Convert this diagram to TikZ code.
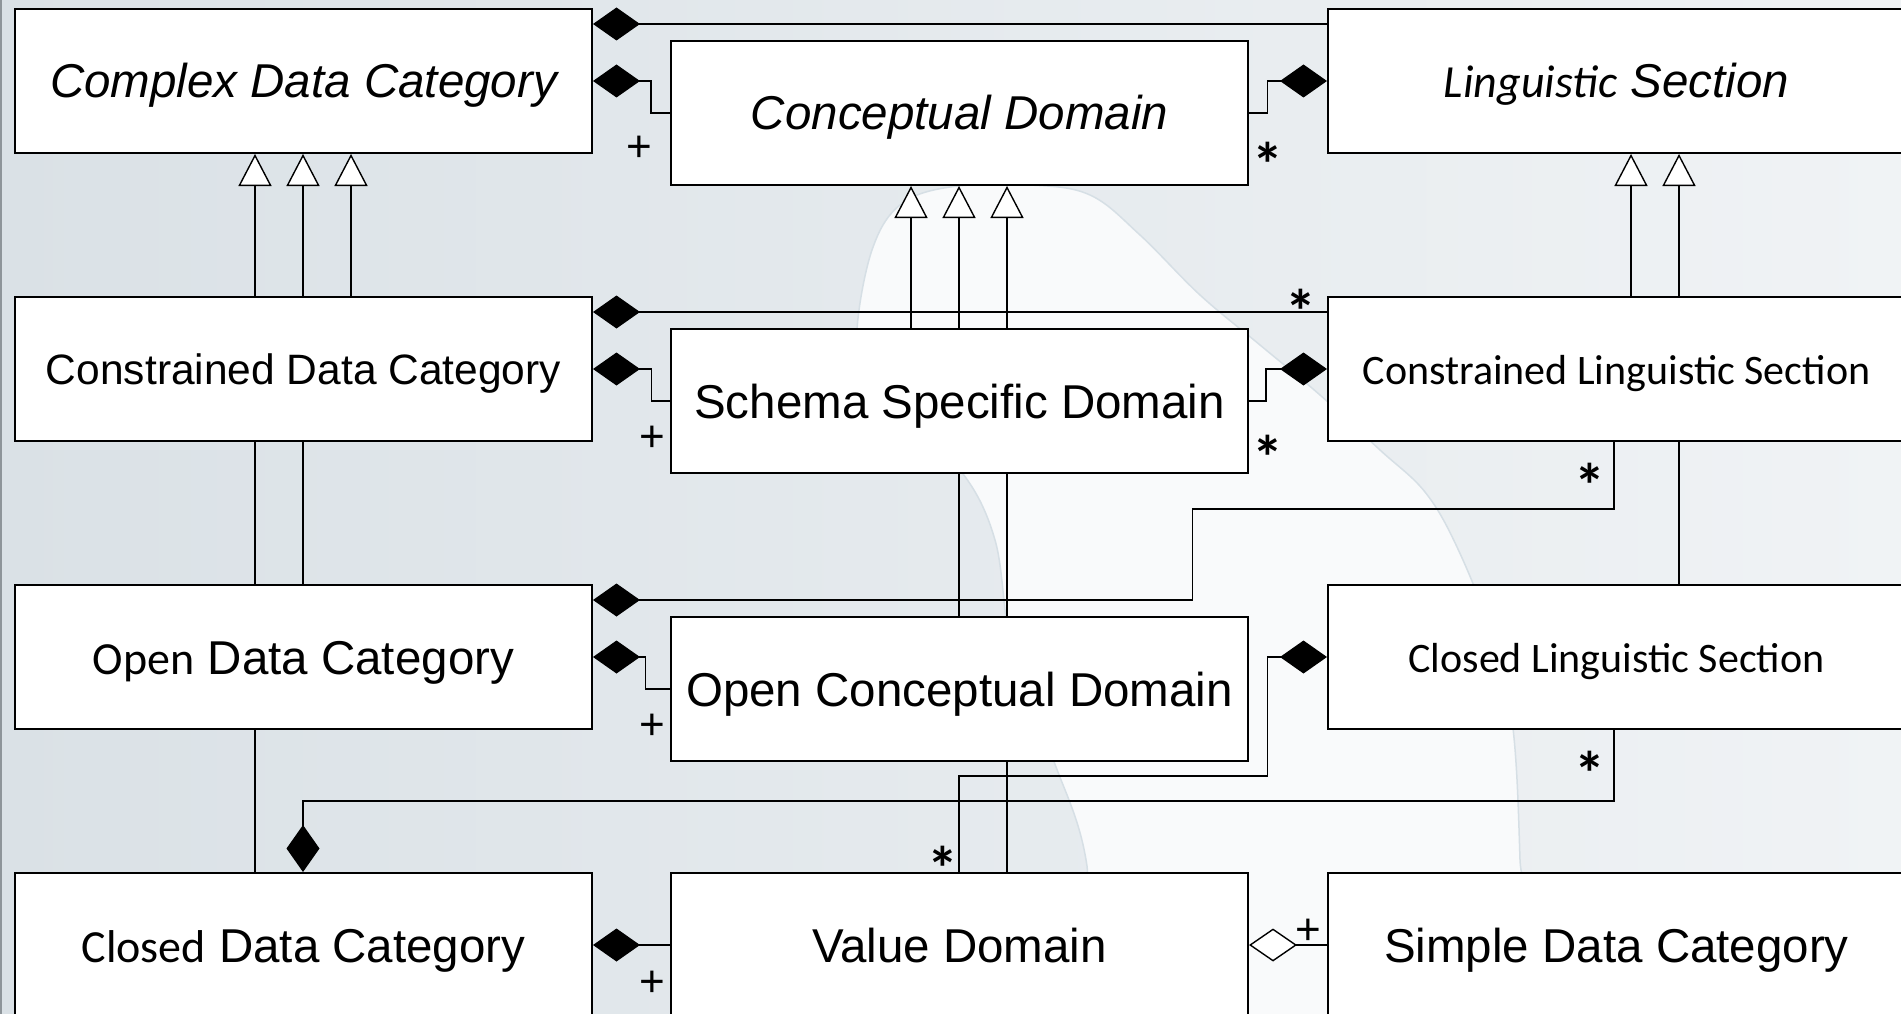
\documentclass[tikz,border=0pt]{standalone}
\usepackage{fontspec}
\usetikzlibrary{arrows.meta,calc}
\newfontfamily\arialfont{Liberation Sans}
\newfontfamily\calibrifont{Carlito}
\pgfdeclarelayer{backdrop}
\pgfdeclarelayer{wires}
\pgfsetlayers{backdrop,wires,main}
\definecolor{bgleft}{HTML}{DAE1E6}
\definecolor{bgright}{HTML}{F0F3F5}
\definecolor{blobfill}{HTML}{F9FAFB}
\definecolor{blobedge}{HTML}{D6DFE5}
\definecolor{frameline}{HTML}{8E959A}

\tikzset{
  umlclass/.style={draw=black, fill=white, line width=2pt,
    minimum width=577pt, minimum height=144pt, inner sep=0pt,
    text height=34pt, text depth=0pt,
    font=\arialfont\fontsize{47.5pt}{57pt}\selectfont},
  smalltext/.style={text height=30pt},
  lingfont/.style={font=\calibrifont\fontsize{42pt}{50pt}\selectfont},
  wire/.style={draw=black, line width=1.4pt},
  composite/.style={wire, -{Diamond[length=47pt,width=33pt]}},
  aggregate/.style={wire, -{Diamond[length=48pt,width=33pt,fill=white]}},
  generalize/.style={wire, -{Triangle[length=32pt,width=33pt,fill=white]}},
  many/.style={font=\calibrifont\bfseries\fontsize{62pt}{70pt}\selectfont, inner sep=0pt},
  plusmark/.style={font=\arialfont\fontsize{44pt}{52pt}\selectfont, inner sep=0pt},
}
\newcommand\cbword[1]{{\calibrifont\fontsize{46pt}{55pt}\selectfont #1}}

\begin{document}
\begin{tikzpicture}[x=1pt,y=-1pt]
\useasboundingbox (0,0) rectangle (1901,1014);

% backdrop: soft gradient with a pale blob and a frame line on the left
\begin{pgfonlayer}{backdrop}
  \shade[left color=bgleft, right color=bgright] (0,0) rectangle (1901,1014);
  \filldraw[fill=blobfill, draw=blobedge, line width=1.5pt]
    plot[smooth cycle, tension=0.6] coordinates {
      (857,330) (872,250) (900,205) (950,187) (1030,185) (1090,195)
      (1140,235) (1200,295) (1260,345) (1320,395) (1380,450) (1425,492)
      (1457,547) (1490,630) (1512,720) (1520,860) (1522,1040)
      (1094,1040) (1087,866) (1052,756) (1012,650) (995,540)
      (960,470) (900,420) (865,380)};
  \draw[line width=2pt, draw=frameline] (1,0) -- (1,1014);
\end{pgfonlayer}

% classes
\node[umlclass] (complexdc) at (303.5,81) {\itshape Complex Data Category};
\node[umlclass] (concdom) at (959.5,113) {\itshape Conceptual Domain};
\node[umlclass] (lingsec) at (1616.5,81) {\cbword{\itshape Linguistic}\ \itshape Section};

\node[umlclass, smalltext, font=\arialfont\fontsize{42.5pt}{51pt}\selectfont] (constrdc) at (303.5,369) {Constrained Data Category};
\node[umlclass] (schemadom) at (959.5,401) {Schema Specific Domain};
\node[umlclass, smalltext, lingfont] (constrls) at (1616.5,369) {Constrained Linguistic Section};

\node[umlclass] (opendc) at (303.5,657) {\cbword{Open} Data Category};
\node[umlclass] (openconc) at (959.5,689) {Open Conceptual Domain};
\node[umlclass, smalltext, lingfont] (closedls) at (1616.5,657) {Closed Linguistic Section};

\node[umlclass] (closeddc) at (303.5,945) {\cbword{Closed} Data Category};
\node[umlclass] (valuedom) at (959.5,945) {Value Domain};
\node[umlclass] (simpledc) at (1616.5,945) {Simple Data Category};

% relations
\begin{pgfonlayer}{wires}
  % generalizations
  \draw[generalize] ($(closeddc.north west)+(241,0)$) -- ($(complexdc.south west)+(241,0)$);
  \draw[generalize] ($(opendc.north west)+(289,0)$) -- ($(complexdc.south west)+(289,0)$);
  \draw[generalize] ($(constrdc.north west)+(337,0)$) -- ($(complexdc.south west)+(337,0)$);
  \draw[generalize] ($(schemadom.north west)+(241,0)$) -- ($(concdom.south west)+(241,0)$);
  \draw[generalize] ($(openconc.north west)+(289,0)$) -- ($(concdom.south west)+(289,0)$);
  \draw[generalize] ($(valuedom.north west)+(337,0)$) -- ($(concdom.south west)+(337,0)$);
  \draw[generalize] ($(constrls.north west)+(304,0)$) -- ($(lingsec.south west)+(304,0)$);
  \draw[generalize] ($(closedls.north west)+(352,0)$) -- ($(lingsec.south west)+(352,0)$);

  % compositions
  \draw[composite] ([yshift=-16pt]lingsec.north west) -- ([yshift=-16pt]complexdc.north east);
  \draw[composite] (concdom.west) -- ++(-19,0) |- (complexdc.east);
  \draw[composite] (concdom.east) -- ++(18.5,0) |- (lingsec.west);
  \draw[composite] ([yshift=-16pt]constrls.north west) -- ([yshift=-16pt]constrdc.north east);
  \draw[composite] (schemadom.west) -- ++(-18.3,0) |- (constrdc.east);
  \draw[composite] (schemadom.east) -- ++(17,0) |- (constrls.west);
  \draw[composite] ($(constrls.south west)+(287,0)$) -- ++(0,67) -- ++(-421.5,0) |- ([yshift=-16pt]opendc.north east);
  \draw[composite] (openconc.west) -- ++(-24.6,0) |- (opendc.east);
  \draw[composite] ($(valuedom.north west)+(289,0)$) -- ++(0,-96) -- ++(308.3,0) |- (closedls.west);
  \draw[composite] ($(closedls.south west)+(287,0)$) -- ++(0,71) -| ($(closeddc.north west)+(289,0)$);
  \draw[composite] (valuedom.west) -- (closeddc.east);
  \draw[aggregate] (simpledc.west) -- (valuedom.east);
\end{pgfonlayer}

% multiplicities
\node[plusmark] (plusA) at (639,149) {+};
\node[plusmark] (plusB) at (652,439) {+};
\node[plusmark] (plusC) at (652,727) {+};
\node[plusmark] (plusD) at (652,984) {+};
\node[plusmark] (plusE) at (1308,932) {+};
\node[many] (starA) at (1268,164.5) {*};
\node[many] (starB) at (1301,311) {*};
\node[many] (starC) at (1268,457) {*};
\node[many] (starD) at (1590,485) {*};
\node[many] (starE) at (943,868) {*};
\node[many] (starF) at (1590,773) {*};
\end{tikzpicture}
\end{document}
